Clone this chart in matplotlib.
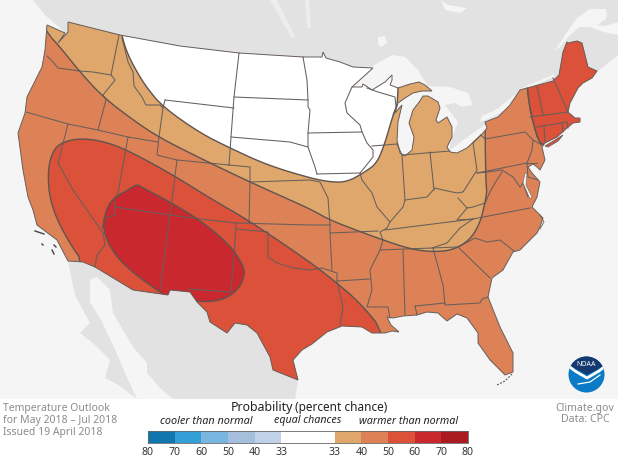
import numpy as np
import matplotlib
matplotlib.use("Agg")
import matplotlib.pyplot as plt
from matplotlib.patches import Polygon, Circle

# everything on the map in pixels
us_outline = [(47,25),(65,33),(58,43),(68,32),(68,22),(120,35),(180,46),(239,53),(303,57),(322,57),(323,52),(326,58),
    (340,62),(353,67),(373,68),(352,87),(362,87),(363,84),(372,90),(385,82),(392,75),(392,80),(390,85),(398,88),
    (410,84),(419,82),(425,85),(432,91),(422,91),(413,93),(405,98),(398,103),(395,113),(402,105),(398,122),(397,140),
    (400,153),(405,156),(412,150),(414,137),(409,123),(413,110),(420,101),(423,96),(428,96),(438,102),(440,108),
    (436,120),(438,123),(447,117),(452,127),(452,137),(447,147),(450,152),(457,153),(467,148),(483,133),(487,128),
    (485,122),(498,117),(510,105),(520,90),(527,88),(553,81),(559,75),(563,52),(567,42),(568,43),(577,41),(582,43),
    (588,67),(597,71),(592,78),(583,83),(578,88),(570,103),(568,112),(575,118),(580,118),(580,122),(573,123),(567,128),
    (557,137),(545,143),(542,147),(545,160),(540,170),(537,167),(533,164),(528,167),(532,173),(540,182),(537,197),
    (532,207),(543,218),(540,227),(537,233),(520,250),(513,252),(503,270),(492,278),(488,297),(500,327),(513,353),
    (513,372),(505,375),(490,360),(478,343),(478,333),(467,318),(457,314),(447,321),(438,313),(427,312),(417,315),
    (403,316),(393,318),(387,317),(391,325),(399,332),(392,331),(385,333),(372,333),(362,327),(342,326),(327,332),
    (312,344),(302,350),(293,360),(298,380),(273,370),(270,357),(257,333),(247,325),(235,323),(227,333),(210,322),
    (207,312),(197,302),(190,292),(170,290),(168,295),(133,290),(95,267),(83,262),(68,261),(57,240),(37,225),(33,210),
    (28,197),(23,170),(18,133),(25,113),(27,97),(42,67),(45,50)]
long_island = [(545,146),(555,140),(563,135),(558,141),(548,147)]

# outlook classes
above_33_40 = [(30,0),(47,33),(60,47),(80,72),(103,97),(133,120),(160,138),(210,163),(250,182),(290,200),(310,209),
    (330,220),(353,229),(383,240),(410,249),(433,252),(453,250),(470,240),(480,223),(485,203),(487,190),(486,187),
    (485,133),(485,0)]
equal_chances = [(122,30),(122,37),(128,55),(137,72),(147,88),(163,107),(200,133),(230,148),(267,165),(310,178),
    (330,182),(347,182),(365,172),(377,163),(385,143),(393,115),(397,107),(398,90),(400,30)]
above_50_60 = [(83,262),(72,247),(57,220),(49,195),(48,170),(52,153),(60,143),(80,138),(107,142),(133,153),(173,175),
    (213,200),(248,220),(310,262),(337,283),(360,303),(385,333),(385,400),(83,400)]
above_50_60_ne = [(527,85),(530,110),(537,137),(543,147),(600,147),(600,30),(527,30)]
above_60_70 = [(102,228),(107,207),(115,197),(128,190),(137,184),(143,188),(170,202),(200,220),(230,245),(243,265),
    (245,275),(238,290),(223,300),(203,302),(190,300),(168,298),(160,292),(133,273),(113,253)]

# state borders
state_lines = [
    [(47,56),(53,62),(58,68),(80,71),(93,72),(111,75)],
    [(119,35),(111,75),(115,80),(103,95),(106,100),(98,130)],
    [(26,112),(68,124),(98,130),(128,137),(158,142)],
    [(122,38),(128,62),(133,72),(134,86),(142,97),(146,105),(160,105),(163,108)],
    [(165,100),(234,108)],
    [(165,100),(163,108),(159,137),(157,155),(177,160),(229,165)],
    [(239,53),(234,97),(231,137),(229,165)],
    [(234,97),(308,100)],
    [(231,137),(290,142),(308,147)],
    [(229,165),(250,167),(250,182),(249,223)],
    [(250,182),(310,180),(320,182),(328,198),(330,225),(330,233),(332,270)],
    [(177,160),(172,200),(170,215),(160,290)],
    [(68,124),(58,163),(73,190),(103,233),(105,245),(97,255),(95,267)],
    [(128,137),(118,193),(115,198),(115,215),(105,218),(102,228)],
    [(115,207),(170,215),(200,219),(236,223),(310,225),(330,225)],
    [(236,223),(236,229),(268,232),(268,257),(277,263),(293,268),(310,270),(322,268),(337,273),(337,281),(343,307),(340,325)],
    [(236,229),(231,292),(188,289)],
    [(303,57),(307,80),(308,100),(308,107),(310,110),(308,133),(308,147),(315,167),(317,174)],
    [(308,133),(362,132)],
    [(352,87),(345,103),(347,113),(360,125),(362,132),(367,143),(373,150),(373,157),(365,167),(360,173),(362,180),
     (372,193),(377,207),(390,222),(387,228),(380,232),(383,240),(380,250),(370,270),(372,290),(367,307),(388,307),(390,318)],
    [(317,174),(360,173)],
    [(367,88),(378,92),(395,97),(396,107),(393,115)],
    [(372,146),(397,144)],
    [(402,155),(450,151)],
    [(397,144),(402,155),(405,200),(403,207),(390,222)],
    [(430,152),(434,190)],
    [(473,143),(477,170),(472,178),(463,192),(457,193),(443,190),(435,188),(427,197),(405,200)],
    [(481,135),(485,139),(525,132),(533,140),(542,145)],
    [(473,143),(481,135)],
    [(477,173),(527,163),(532,150),(533,140)],
    [(527,163),(537,163)],
    [(527,163),(528,177),(538,180)],
    [(477,173),(488,172),(502,170),(513,177),(520,187),(523,183),(528,197)],
    [(502,172),(495,183),(490,192),(485,203),(473,207),(467,208),(458,198)],
    [(527,88),(530,110),(537,137),(542,145)],
    [(537,86),(543,115)],
    [(553,78),(568,112)],
    [(530,117),(568,112)],
    [(537,127),(567,122)],
    [(562,123),(563,132)],
    [(567,122),(568,128)],
    [(544,126),(545,142)],
    [(330,233),(378,231)],
    [(385,230),(473,219),(530,208)],
    [(473,219),(460,228),(447,243),(432,248),(380,250)],
    [(473,219),(457,220),(467,208)],
    [(432,248),(458,247),(475,238),(487,242),(500,240),(514,251)],
    [(459,248),(490,278)],
    [(433,248),(443,285),(445,305),(480,303),(482,299),(488,297)],
    [(415,306),(445,303)],
    [(415,306),(417,315)],
    [(403,250),(405,315)],
    [(337,281),(370,279)],
]
chesapeake = [(525,173),(527,174),(526,185),(532,197),(530,199),(523,183)]
channel_islands = [[(35,231),(44,234)],[(42,244),(43,245)],[(54,245),(56,247)],[(52,250),(54,254)]]
keys = [(497,385),(505,381),(513,373)]
outer_banks = [(540,215),(544,222),(540,229)]

# other land and water
canada = [(33,0),(45,15),(60,28),(68,35),(120,40),(240,58),(320,62),(370,72),(428,90),(445,115),(450,150),(470,145),
    (487,128),(500,115),(520,95),(555,85),(597,72),(618,55),(618,0)]
mexico = [(68,261),(75,295),(90,323),(80,333),(95,345),(110,360),(105,378),(117,384),(137,399),(295,399),(298,380),
    (250,320),(190,285),(100,262)]
gulf_california = [(90,280),(97,277),(110,290),(113,313),(133,347),(147,363),(147,373),(160,388),(173,399),(137,399),
    (128,380),(113,345),(100,318),(90,302)]
lakes = [
    [(352,87),(365,72),(376,64),(392,55),(405,57),(418,70),(428,86),(405,87),(375,85)],
    [(428,86),(450,87),(468,93),(473,105),(462,107),(455,103),(445,105),(458,122),(452,138),(449,150),(440,110),(430,92)],
    [(450,150),(470,135),(485,125),(490,130),(470,150)],
    [(480,122),(482,116),(500,108),(513,100),(518,97),(510,108),(490,118)],
    [(555,51),(565,35),(577,18),(590,9),(606,9),(607,18),(597,25),(605,26),(618,22),(618,35),(604,32),(590,27),(580,27),(570,35),(560,47)],
    [(441,0),(448,5),(467,8),(460,13),(445,10)],
    [(378,37),(385,36),(387,43),(381,47),(378,44)],
]
faint_lakes = [
    [(270,0),(277,0),(295,36),(292,38),(281,20)],
    [(305,0),(309,0),(311,28),(307,28)],
]

# legend
legend_colors = ["#0F76AE", "#329FD7", "#7AB7E0", "#A4BEDB", "#C1D1E8", "#FFFFFF",
                 "#DFA76B", "#DD8256", "#DB5139", "#C9282F", "#A91B21"]
legend_edges = [0, 1, 2, 3, 4, 5, 7, 8, 9, 10, 11, 12]
legend_labels = ["80", "70", "60", "50", "40", "33", "33", "40", "50", "60", "70", "80"]

TAN, ORANGE, RED, DEEP = legend_colors[6], legend_colors[7], legend_colors[8], legend_colors[9]
BG = "#F5F5F5"
LAND = "#E2E2E2"
LINE = "#665F5C"
plt.rcParams['font.family'] = ['Noto Sans', 'DejaVu Sans']


def rounded(pts, n=2):
    # corner cutting so the hand read contours do not look like polygons
    p = np.array(pts, dtype=float)
    for _ in range(n):
        q = np.roll(p, -1, axis=0)
        p = np.column_stack([0.75*p + 0.25*q, 0.25*p + 0.75*q]).reshape(-1, 2)
    return p


fig = plt.figure(figsize=(6.18, 4.58), dpi=100)
ax = fig.add_axes([0, 0, 1, 1])
ax.set_xlim(0, 618)
ax.set_ylim(458, 0)
ax.axis("off")
ax.add_patch(plt.Rectangle((0, 0), 618, 458, fc=BG, ec="none", zorder=0))

ax.add_patch(Polygon(canada, fc=LAND, ec="none", zorder=1))
ax.add_patch(Polygon(mexico, fc=LAND, ec="none", zorder=1))
ax.add_patch(Polygon(gulf_california, fc=BG, ec="none", zorder=2))
for lake in lakes:
    ax.add_patch(Polygon(lake, fc=BG, ec="none", zorder=2))
for lake in faint_lakes:
    ax.add_patch(Polygon(lake, fc="#EDEDED", ec="none", zorder=2))
ax.plot([495, 525, 553], [112, 88, 76], color=BG, lw=1.5, zorder=2)

us = Polygon(us_outline, fc=ORANGE, ec="none", zorder=3)
ax.add_patch(us)
classes = [(above_33_40, TAN, 4), (equal_chances, "white", 5), (above_50_60, RED, 6),
           (above_50_60_ne, RED, 6), (above_60_70, DEEP, 7)]
for pts, col, z in classes:
    p = Polygon(rounded(pts), fc=col, ec="none", zorder=z)
    ax.add_patch(p)
    p.set_clip_path(us)
ax.add_patch(Polygon(long_island, fc=RED, ec=LINE, lw=0.6, zorder=8))
ax.add_patch(Polygon(chesapeake, fc=BG, ec=LINE, lw=0.4, zorder=9))

for seg in state_lines:
    xs, ys = zip(*seg)
    ax.plot(xs, ys, color=LINE, lw=0.75, zorder=8, solid_joinstyle="round")

# class contours sit on top of the borders
for pts in [above_33_40, equal_chances, above_50_60, above_50_60_ne, above_60_70]:
    p = Polygon(rounded(pts), fc="none", ec="#5F5450", lw=1.0, zorder=9)
    ax.add_patch(p)
    p.set_clip_path(us)
ax.add_patch(Polygon(us_outline, fc="none", ec=LINE, lw=0.7, zorder=10))
for seg in channel_islands:
    xs, ys = zip(*seg)
    ax.plot(xs, ys, color="#444444", lw=1, zorder=10)
ax.plot(*zip(*keys), color="#444444", lw=0.7, ls=(0, (2, 1.5)), zorder=10)
ax.plot(*zip(*outer_banks), color=LINE, lw=0.6, zorder=10)

# noaa logo
disc = Circle((586.5, 374.5), 18, fc="#0A7BC4", ec="none", zorder=11)
ax.add_patch(disc)
top = Polygon([(565,350),(609,350),(609,362),(600,368),(587,375),(574,368),(565,362)], fc="#14386F", ec="none", zorder=12)
ax.add_patch(top)
top.set_clip_path(disc)
swoosh, = ax.plot([566, 575, 587, 599, 608], [364, 371, 378, 371, 364], color="white", lw=2, zorder=13)
swoosh.set_clip_path(disc)
ax.plot([578, 590, 600], [384, 382, 375], color="white", lw=0.9, zorder=13)
ax.text(586.5, 365, "NOAA", color="white", fontsize=5, fontweight="bold", ha="center", va="center", zorder=14)

# footer
ax.add_patch(plt.Rectangle((0, 399), 618, 59, fc="white", ec="none", zorder=15))
GREY = "#8C8C8C"
ax.text(3, 408, "Temperature Outlook", color=GREY, fontsize=7.5, va="center", zorder=16)
ax.text(3, 420, "for May 2018 – Jul 2018", color=GREY, fontsize=7.5, va="center", zorder=16)
ax.text(3, 432, "Issued 19 April 2018", color=GREY, fontsize=7.5, va="center", zorder=16)
ax.text(585, 408, "Climate.gov", color=GREY, fontsize=7.6, ha="center", va="center", zorder=16)
ax.text(585, 420, "Data: CPC", color=GREY, fontsize=7.6, ha="center", va="center", zorder=16)
ax.text(231, 408, "Probability", color="#222222", fontsize=8.9, fontweight="bold", va="center", zorder=16)
ax.text(295, 408, "(percent chance)", color="#222222", fontsize=8.5, va="center", zorder=16)
ax.text(206, 421, "cooler than normal", color="#222222", fontsize=7.8, style="italic", ha="center", va="center", zorder=16)
ax.text(308, 421, "equal chances", color="#222222", fontsize=7.7, style="italic", ha="center", va="center", zorder=16)
ax.text(409, 421, "warmer than normal", color="#222222", fontsize=7.7, style="italic", ha="center", va="center", zorder=16)

# legend bar on its own axes
cax = fig.add_axes([148/618, 1 - 443/458, 320/618, 12/458], zorder=5)
cax.bar(legend_edges[:-1], [1] * len(legend_colors),
        width=[b - a for a, b in zip(legend_edges[:-1], legend_edges[1:])],
        align="edge", color=legend_colors, edgecolor="none")
cax.set_xlim(0, 12)
cax.set_ylim(0, 1)
cax.set_yticks([])
cax.set_xticks(legend_edges)
cax.set_xticklabels(legend_labels, fontsize=7.6, color="#333333")
cax.tick_params(axis="x", length=0, pad=3)
for s in cax.spines.values():
    s.set_linewidth(0.6)
    s.set_color("#666666")

fig.savefig("out.png", dpi=100)
